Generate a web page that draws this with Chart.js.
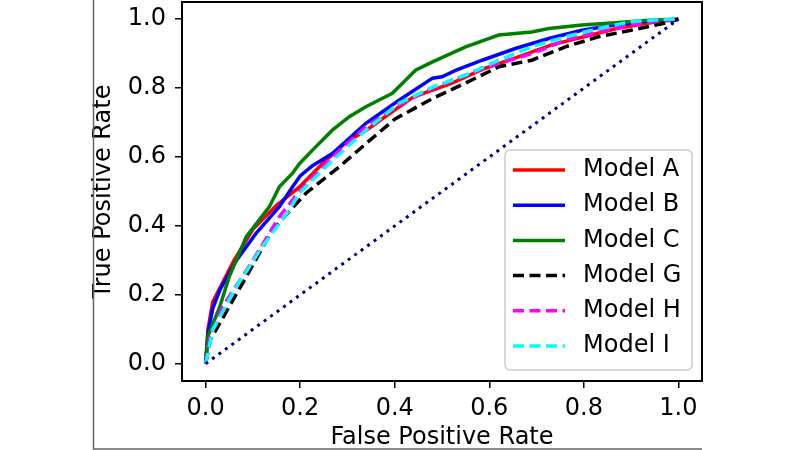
<!DOCTYPE html>
<html>
<head>
<meta charset="utf-8">
<script src="https://cdn.jsdelivr.net/npm/chart.js@4/dist/chart.umd.min.js"></script>
<style>
  html, body { margin: 0; padding: 0; background: #fff; }
  #wrap { width: 800px; height: 450px; }
</style>
</head>
<body>
<div id="wrap"><canvas id="roc" width="800" height="450"></canvas></div>
<script>
// ROC 曲線資料
const tickValues = [0.0, 0.2, 0.4, 0.6, 0.8, 1.0];

const modelAx = [0, 0.005, 0.015, 0.03, 0.06, 0.1, 0.15, 0.2, 0.25, 0.3, 0.34, 0.39, 0.44, 0.52, 0.59, 0.66, 0.73, 0.8, 0.87, 0.94, 1];
const modelAy = [0, 0.1, 0.18, 0.22, 0.3, 0.39, 0.46, 0.515, 0.585, 0.645, 0.678, 0.727, 0.775, 0.814, 0.857, 0.89, 0.925, 0.949, 0.973, 0.99, 1];

const modelBx = [0, 0.005, 0.015, 0.03, 0.065, 0.107, 0.156, 0.184, 0.2, 0.226, 0.268, 0.339, 0.409, 0.48, 0.5, 0.53, 0.585, 0.655, 0.726, 0.796, 0.866, 0.937, 1];
const modelBy = [0, 0.09, 0.16, 0.214, 0.3, 0.379, 0.456, 0.514, 0.545, 0.575, 0.61, 0.698, 0.765, 0.829, 0.833, 0.852, 0.881, 0.915, 0.944, 0.968, 0.983, 0.995, 1];

const modelCx = [0, 0.005, 0.03, 0.05, 0.086, 0.135, 0.156, 0.184, 0.198, 0.226, 0.268, 0.304, 0.339, 0.395, 0.444, 0.48, 0.55, 0.62, 0.69, 0.726, 0.796, 0.866, 0.937, 1];
const modelCy = [0, 0.08, 0.166, 0.253, 0.369, 0.456, 0.514, 0.553, 0.58, 0.62, 0.678, 0.717, 0.746, 0.785, 0.852, 0.876, 0.92, 0.954, 0.963, 0.973, 0.983, 0.99, 0.997, 1];

const modelGx = [0, 0.01, 0.03, 0.086, 0.141, 0.212, 0.283, 0.34, 0.4, 0.48, 0.55, 0.62, 0.69, 0.761, 0.831, 0.9, 0.97, 1];
const modelGy = [0, 0.07, 0.118, 0.253, 0.388, 0.495, 0.572, 0.64, 0.71, 0.77, 0.815, 0.862, 0.881, 0.92, 0.949, 0.968, 0.988, 1];

const modelHx = [0, 0.01, 0.036, 0.1, 0.156, 0.198, 0.268, 0.339, 0.409, 0.48, 0.55, 0.62, 0.69, 0.761, 0.831, 0.9, 0.97, 1];
const modelHy = [0, 0.08, 0.166, 0.3, 0.427, 0.5, 0.6, 0.688, 0.751, 0.8, 0.838, 0.872, 0.9, 0.939, 0.963, 0.983, 0.997, 1];

const modelIx = [0, 0.015, 0.065, 0.12, 0.177, 0.198, 0.268, 0.339, 0.409, 0.48, 0.55, 0.62, 0.69, 0.761, 0.831, 0.9, 0.97, 1];
const modelIy = [0, 0.098, 0.224, 0.34, 0.446, 0.495, 0.59, 0.678, 0.756, 0.803, 0.838, 0.881, 0.92, 0.949, 0.973, 0.993, 1.0, 1];

const chanceX = [0, 1];
const chanceY = [0, 1];

const FONT = 'DejaVu Sans';
const LINE_W = 3.5;

function pts(xs, ys) {
    return xs.map((x, i) => ({ x: x, y: ys[i] }));
}

function curve(label, xs, ys, color, dash, order) {
    return {
        label: label,
        data: pts(xs, ys),
        borderColor: color,
        backgroundColor: color,
        borderWidth: LINE_W,
        borderDash: dash,
        showLine: true,
        pointRadius: 0,
        tension: 0,
        order: order
    };
}

const datasets = [
    curve('Model A', modelAx, modelAy, '#ff0000', [], 6),
    curve('Model B', modelBx, modelBy, '#0000ff', [], 5),
    curve('Model C', modelCx, modelCy, '#008000', [], 4),
    curve('Model G', modelGx, modelGy, '#000000', [11, 5.5], 3),
    curve('Model H', modelHx, modelHy, '#ff00ff', [11, 5.5], 2),
    curve('Model I', modelIx, modelIy, '#00ffff', [11, 5.5], 1),
    Object.assign(curve('chance', chanceX, chanceY, '#000080', [3, 5], 0), { borderWidth: 3 })
];

// 外框、座標框與圖例
const decorPlugin = {
    id: 'decor',
    afterDraw(chart) {
        const { ctx, chartArea: a } = chart;
        ctx.save();

        // 灰色外框 (左側與底部)
        ctx.strokeStyle = '#666';
        ctx.lineWidth = 1.5;
        ctx.beginPath();
        ctx.moveTo(93.5, 0);
        ctx.lineTo(93.5, 449);
        ctx.lineTo(702, 449);
        ctx.stroke();

        // 圖例
        const lx = 505, ly = 150, lw = 187, lh = 220, r = 5;
        ctx.fillStyle = 'rgba(255,255,255,0.85)';
        ctx.strokeStyle = '#cccccc';
        ctx.lineWidth = 1.5;
        ctx.beginPath();
        ctx.roundRect(lx, ly, lw, lh, r);
        ctx.fill();
        ctx.stroke();

        ctx.font = '24px "' + FONT + '"';
        ctx.textBaseline = 'middle';
        ctx.textAlign = 'left';
        chart.data.datasets.slice(0, 6).forEach((ds, i) => {
            const y = 170 + i * 35.2;
            ctx.strokeStyle = ds.borderColor;
            ctx.lineWidth = LINE_W;
            ctx.setLineDash(ds.borderDash);
            ctx.beginPath();
            ctx.moveTo(513, y);
            ctx.lineTo(565, y);
            ctx.stroke();
            ctx.setLineDash([]);
            ctx.fillStyle = '#000';
            ctx.fillText(ds.label, 583, y);
        });

        // 座標框
        ctx.strokeStyle = '#000';
        ctx.lineWidth = 2;
        ctx.strokeRect(a.left, a.top, a.right - a.left, a.bottom - a.top);
        ctx.restore();
    }
};

const ctx = document.getElementById('roc').getContext('2d');

const chart = new Chart(ctx, {
    type: 'scatter',
    data: { datasets: datasets },
    options: {
        responsive: false,
        animation: false,
        layout: { padding: { top: 2, right: 98, bottom: 0, left: 0 } },
        scales: {
            x: {
                type: 'linear',
                min: -0.05,
                max: 1.05,
                afterBuildTicks: s => { s.ticks = tickValues.map(v => ({ value: v })); },
                afterFit: s => { s.height = 69; s.paddingLeft = 0; s.paddingRight = 0; },
                ticks: {
                    callback: v => v.toFixed(1),
                    font: { family: FONT, size: 24 },
                    color: '#000',
                    padding: 6,
                    maxRotation: 0,
                    autoSkip: false
                },
                grid: { drawOnChartArea: false, tickLength: 7, color: '#000', lineWidth: 1.5 },
                border: { display: false },
                title: {
                    display: true,
                    text: 'False Positive Rate',
                    font: { family: FONT, size: 24, lineHeight: 1 },
                    color: '#000',
                    padding: { top: 0, bottom: 0 }
                }
            },
            y: {
                type: 'linear',
                min: -0.05,
                max: 1.05,
                afterBuildTicks: s => { s.ticks = tickValues.map(v => ({ value: v })); },
                afterFit: s => { s.width = 182; s.paddingTop = 0; s.paddingBottom = 0; },
                ticks: {
                    callback: v => v.toFixed(1),
                    font: { family: FONT, size: 24 },
                    color: '#000',
                    padding: 9,
                    autoSkip: false
                },
                grid: { drawOnChartArea: false, tickLength: 7, color: '#000', lineWidth: 1.5 },
                border: { display: false },
                title: {
                    display: true,
                    text: 'True Positive Rate',
                    font: { family: FONT, size: 24, lineHeight: 1 },
                    color: '#000',
                    padding: { top: 92, bottom: 0 }
                }
            }
        },
        plugins: {
            legend: { display: false },
            tooltip: { enabled: false }
        }
    },
    plugins: [decorPlugin]
});
</script>
</body>
</html>
